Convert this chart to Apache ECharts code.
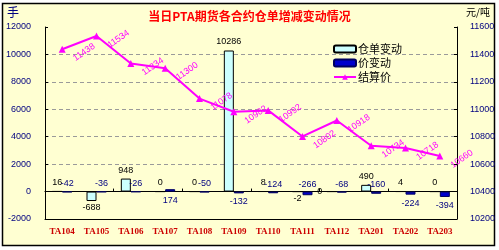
<!DOCTYPE html>
<html><head><meta charset="utf-8">
<script src="https://cdn.jsdelivr.net/npm/echarts@6/dist/echarts.min.js"></script>
<style>html,body{margin:0;padding:0;background:#fff}#c{width:499px;height:250px}</style>
</head><body><div id="c"></div>
<script>
// ---- data ----
const categories = ['TA104','TA105','TA106','TA107','TA108','TA109','TA110','TA111','TA112','TA201','TA202','TA203'];
const receiptChange = [16, -688, 948, 0, 0, 10286, 8, -2, 0, 490, 4, 0];
const priceChange = [-42, -36, -26, 174, -50, -132, -124, -266, -68, -160, -224, -394];
const settlePrice = [11438, 11534, 11334, 11300, 11078, 10982, 10992, 10802, 10918, 10734, 10718, 10660];
const seriesNames = ['仓单变动', '价变动', '结算价'];
const leftAxisRange = [-2000, 12000, 2000];
const rightAxisRange = [10200, 11600, 200];

// ---- label placement (style only) ----
const priceLabelSide = ['top','top','top','bottom','top','bottom','top','top','top','top','bottom','bottom'];

const chart = echarts.init(document.getElementById('c'), null, {renderer: 'canvas'});
const axisFont = {fontFamily: 'Liberation Sans', fontSize: 9, color: '#000080', formatter: v => String(v)};

const receiptData = receiptChange.map((v, i) => ({
  value: v,
  label: {position: v < 0 ? 'bottom' : (i === 8 ? 'left' : 'top'), distance: v < 0 ? 2 : 4}
}));
const priceData = priceChange.map((v, i) => ({
  value: v,
  label: {position: priceLabelSide[i], distance: priceLabelSide[i] === 'bottom' ? 4 : 3}
}));

chart.setOption({
  animation: false,
  backgroundColor: '#ffffff',
  graphic: [
    {type: 'rect', z: -10, shape: {x: 2.5, y: 3.5, width: 492, height: 242},
     style: {fill: '#FFFFD2', stroke: '#000', lineWidth: 1.5}},
    {type: 'text', left: 7, top: 6, style: {text: '手', font: '12px "Noto Sans CJK SC"', fill: '#000080'}},
    {type: 'text', left: 466, top: 7, style: {text: '元/吨', font: '10px "Noto Sans CJK SC"', fill: '#000'}}
  ],
  title: {
    text: '当日PTA期货各合约仓单增减变动情况',
    left: 'center', top: 5,
    textStyle: {fontFamily: 'Noto Sans CJK SC', fontSize: 12, fontWeight: 'bold', color: '#FF0000'}
  },
  legend: {
    orient: 'vertical', left: 328, top: 37,
    itemWidth: 22, itemHeight: 7, itemGap: 0,
    textStyle: {fontFamily: 'Noto Sans CJK SC', fontSize: 11, color: '#000', padding: [0,0,0,-3], lineHeight: 14},
    data: seriesNames
  },
  grid: {left: 45, right: 42, top: 27, bottom: 31, containLabel: false},
  xAxis: [
    {type: 'category', data: categories, position: 'bottom',
     axisLine: {onZero: false, lineStyle: {color: '#000', width: 1}},
     axisTick: {show: false},
     axisLabel: {interval: 0, fontFamily: 'Liberation Serif', fontSize: 9, fontWeight: 'bold', color: '#CC0000', margin: 8}},
    {type: 'category', data: categories, position: 'bottom',
     axisLine: {onZero: true, onZeroAxisIndex: 0, lineStyle: {color: '#000', width: 1.2}},
     axisTick: {show: true, inside: true, length: 3, lineStyle: {color: '#000'}},
     axisLabel: {show: false}, splitLine: {show: false}}
  ],
  yAxis: [
    {type: 'value', min: leftAxisRange[0], max: leftAxisRange[1], interval: leftAxisRange[2], position: 'left',
     axisLine: {show: true, lineStyle: {color: '#000'}},
     axisTick: {show: true, inside: true, length: 3, lineStyle: {color: '#000'}},
     axisLabel: Object.assign({margin: 14}, axisFont),
     splitLine: {show: true, lineStyle: {type: [4, 3], width: 1,
       color: ['transparent','transparent','#9a9a9a','#9a9a9a','#9a9a9a','#9a9a9a','#9a9a9a','transparent']}}},
    {type: 'value', min: rightAxisRange[0], max: rightAxisRange[1], interval: rightAxisRange[2], position: 'right',
     axisLine: {show: true, lineStyle: {color: '#000'}},
     axisTick: {show: true, inside: true, length: 3, lineStyle: {color: '#000'}},
     axisLabel: Object.assign({margin: 13}, axisFont),
     splitLine: {show: false}}
  ],
  series: [
    {name: seriesNames[0], type: 'bar', xAxisIndex: 0, yAxisIndex: 0, data: receiptData,
     barWidth: 10, barGap: '0%',
     itemStyle: {color: '#CCFFFF', borderColor: '#000', borderWidth: 1},
     label: {show: true, fontFamily: 'Liberation Sans', fontSize: 9, color: '#000'}},
    {name: seriesNames[1], type: 'bar', xAxisIndex: 0, yAxisIndex: 0, data: priceData,
     barWidth: 10, barGap: '0%',
     itemStyle: {color: '#0000CC', borderColor: '#000060', borderWidth: 1},
     label: {show: true, fontFamily: 'Liberation Sans', fontSize: 9, color: '#000080'}},
    {name: seriesNames[2], type: 'line', xAxisIndex: 0, yAxisIndex: 1, data: settlePrice,
     symbol: 'triangle', symbolSize: 7, z: 5,
     lineStyle: {color: '#FF00FF', width: 2},
     itemStyle: {color: '#FF00FF'},
     label: {show: true, position: 'inside', align: 'center', verticalAlign: 'middle',
       fontFamily: 'Liberation Sans', fontSize: 9, color: '#FF00FF'},
     labelLayout: function (p) {
       return {
         x: p.rect.x + p.rect.width / 2 + 22,
         y: p.rect.y + p.rect.height / 2 + 3,
         rotate: 35, align: 'center', verticalAlign: 'middle'
       };
     }}
  ]
});
</script></body></html>
